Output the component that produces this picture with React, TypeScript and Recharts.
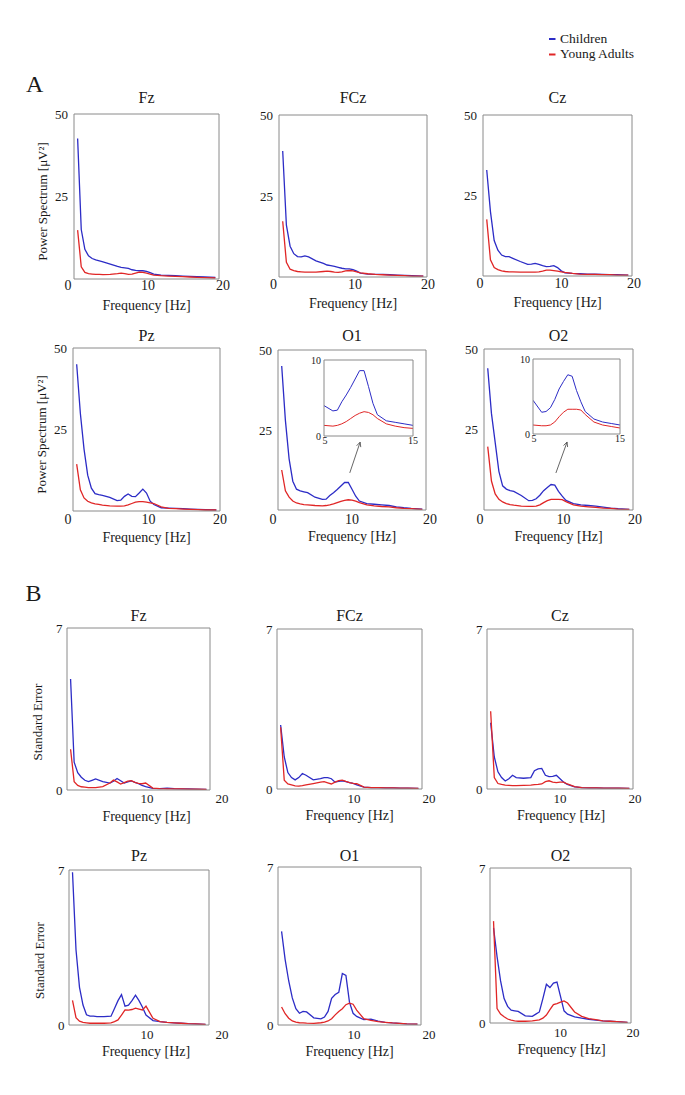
import React from 'react';
import { LineChart, Line, XAxis, YAxis, ReferenceLine } from 'recharts';

// ---------- data ----------
const FREQ = [0.5, 1, 1.5, 2, 2.5, 3, 3.5, 4, 5, 6, 6.5, 7, 7.5, 8, 8.5, 9, 9.5, 10, 10.5, 11, 12, 13, 14, 15, 16, 17, 18, 19.5];

// A: power spectrum [µV²]
const A_FZ_CHILD = [42.6, 15, 9, 7, 6.2, 5.8, 5.5, 5.2, 4.5, 3.8, 3.5, 3.4, 3.2, 2.8, 2.6, 2.5, 2.5, 2.3, 1.9, 1.5, 1.2, 1.1, 1.0, 0.9, 0.8, 0.7, 0.6, 0.5];
const A_FZ_ADULT = [14.8, 3.7, 2.0, 1.6, 1.5, 1.4, 1.4, 1.3, 1.4, 1.6, 1.8, 1.6, 1.4, 1.5, 1.8, 2.1, 2.0, 1.8, 1.5, 1.2, 1.0, 0.9, 0.8, 0.7, 0.6, 0.5, 0.4, 0.3];
const A_FCZ_CHILD = [38.9, 16, 9.5, 7.2, 6.3, 6.2, 6.5, 6.2, 5.0, 4.2, 3.7, 3.5, 3.3, 3.0, 2.7, 2.5, 2.5, 2.3, 1.8, 1.2, 0.9, 0.8, 0.8, 0.7, 0.6, 0.5, 0.4, 0.3];
const A_FCZ_ADULT = [17.2, 4.5, 2.4, 2.0, 1.7, 1.6, 1.5, 1.5, 1.5, 1.7, 1.8, 1.7, 1.5, 1.4, 1.6, 1.9, 2.0, 1.9, 1.6, 1.3, 1.0, 0.8, 0.7, 0.6, 0.5, 0.4, 0.3, 0.3];
const A_CZ_CHILD = [32.9, 20, 11, 8, 6.5, 6.0, 6.0, 5.5, 4.5, 3.6, 3.7, 3.9, 3.6, 3.2, 2.9, 3.0, 3.2, 2.6, 1.6, 1.0, 0.8, 0.7, 0.6, 0.6, 0.5, 0.4, 0.4, 0.3];
const A_CZ_ADULT = [17.6, 5, 2.6, 2.0, 1.6, 1.4, 1.3, 1.3, 1.2, 1.2, 1.2, 1.2, 1.3, 1.5, 1.8, 1.8, 1.7, 1.5, 1.3, 1.1, 0.8, 0.6, 0.5, 0.5, 0.4, 0.4, 0.3, 0.3];
const A_PZ_CHILD = [45, 30, 19, 11, 7, 5.3, 5.0, 4.8, 4.2, 3.2, 3.3, 4.5, 5.2, 4.5, 4.4, 5.5, 6.7, 5.5, 3.0, 2.0, 1.0, 0.9, 0.8, 0.7, 0.6, 0.5, 0.4, 0.3];
const A_PZ_ADULT = [14.4, 6.5, 4.0, 3.0, 2.5, 2.2, 2.0, 1.8, 1.6, 1.5, 1.5, 1.6, 1.9, 2.3, 2.7, 2.9, 2.9, 2.7, 2.5, 2.3, 1.3, 0.8, 0.7, 0.6, 0.5, 0.4, 0.3, 0.3];
const A_O1_CHILD = [45, 28, 16, 9, 6.5, 6.0, 5.7, 5.4, 4.0, 3.3, 3.4, 4.5, 5.4, 6.4, 7.5, 8.6, 8.6, 6.5, 4.3, 2.8, 2.0, 1.8, 1.6, 1.4, 1.0, 0.7, 0.5, 0.3];
const A_O1_ADULT = [12.5, 6, 4, 2.8, 2.2, 1.9, 1.7, 1.6, 1.4, 1.3, 1.4, 1.6, 1.9, 2.3, 2.7, 3.0, 3.2, 3.1, 2.8, 2.3, 1.6, 1.3, 1.1, 1.0, 0.7, 0.5, 0.4, 0.2];
const A_O2_CHILD = [44, 30, 21, 12, 7.5, 6.5, 6.0, 5.8, 4.5, 2.9, 3.0, 3.5, 4.6, 6.0, 7.0, 7.9, 7.7, 5.8, 4.3, 3.0, 2.0, 1.6, 1.4, 1.2, 0.9, 0.6, 0.4, 0.2];
const A_O2_ADULT = [19.7, 9, 5, 3.3, 2.5, 2.0, 1.7, 1.5, 1.2, 1.1, 1.1, 1.2, 1.6, 2.3, 2.9, 3.3, 3.3, 3.3, 3.2, 2.6, 1.6, 1.2, 1.0, 0.8, 0.6, 0.5, 0.3, 0.2];

// B: standard error
const B_FZ_CHILD = [4.8, 1.2, 0.75, 0.55, 0.42, 0.36, 0.42, 0.48, 0.36, 0.3, 0.38, 0.5, 0.4, 0.3, 0.35, 0.39, 0.33, 0.27, 0.2, 0.15, 0.07, 0.06, 0.08, 0.06, 0.05, 0.05, 0.04, 0.03];
const B_FZ_ADULT = [1.76, 0.36, 0.2, 0.14, 0.12, 0.1, 0.1, 0.1, 0.15, 0.3, 0.43, 0.35, 0.26, 0.32, 0.38, 0.4, 0.33, 0.29, 0.27, 0.3, 0.08, 0.06, 0.05, 0.05, 0.05, 0.04, 0.04, 0.03];
const B_FCZ_CHILD = [2.8, 1.4, 0.72, 0.5, 0.4, 0.5, 0.68, 0.6, 0.4, 0.45, 0.5, 0.5, 0.45, 0.3, 0.33, 0.36, 0.32, 0.28, 0.25, 0.18, 0.08, 0.06, 0.06, 0.05, 0.05, 0.04, 0.04, 0.03];
const B_FCZ_ADULT = [2.7, 0.38, 0.22, 0.18, 0.14, 0.13, 0.15, 0.18, 0.24, 0.3, 0.32, 0.27, 0.22, 0.3, 0.37, 0.39, 0.33, 0.28, 0.25, 0.23, 0.08, 0.06, 0.06, 0.05, 0.05, 0.04, 0.04, 0.03];
const B_CZ_CHILD = [2.9, 1.4, 0.75, 0.5, 0.35, 0.45, 0.6, 0.5, 0.47, 0.5, 0.8, 0.88, 0.9, 0.6, 0.54, 0.55, 0.6, 0.45, 0.3, 0.2, 0.09, 0.06, 0.05, 0.05, 0.04, 0.04, 0.04, 0.03];
const B_CZ_ADULT = [3.4, 0.5, 0.24, 0.2, 0.17, 0.16, 0.15, 0.15, 0.16, 0.17, 0.19, 0.2, 0.22, 0.32, 0.36, 0.3, 0.28, 0.3, 0.3, 0.22, 0.1, 0.06, 0.05, 0.05, 0.04, 0.04, 0.04, 0.03];
const B_PZ_CHILD = [6.9, 3.4, 1.7, 0.9, 0.46, 0.4, 0.4, 0.38, 0.38, 0.4, 0.75, 1.1, 1.37, 0.85, 0.9, 1.1, 1.35, 1.1, 0.8, 0.45, 0.2, 0.15, 0.12, 0.1, 0.08, 0.06, 0.05, 0.03];
const B_PZ_ADULT = [1.11, 0.33, 0.17, 0.12, 0.1, 0.08, 0.08, 0.08, 0.08, 0.1, 0.15, 0.23, 0.45, 0.68, 0.67, 0.7, 0.76, 0.72, 0.68, 0.85, 0.3, 0.15, 0.12, 0.1, 0.08, 0.06, 0.05, 0.03];
const B_O1_CHILD = [4.15, 2.9, 1.95, 1.2, 0.72, 0.52, 0.6, 0.58, 0.32, 0.27, 0.35, 0.6, 1.18, 1.35, 1.45, 2.28, 2.2, 1.0, 0.52, 0.38, 0.24, 0.26, 0.17, 0.12, 0.09, 0.07, 0.05, 0.04];
const B_O1_ADULT = [0.8, 0.5, 0.3, 0.18, 0.13, 0.1, 0.09, 0.08, 0.07, 0.1, 0.13, 0.18, 0.28, 0.45, 0.6, 0.72, 0.9, 0.97, 0.92, 0.66, 0.28, 0.2, 0.15, 0.12, 0.09, 0.07, 0.05, 0.04];
const B_O2_CHILD = [4.3, 3.0, 1.9, 1.1, 0.75, 0.58, 0.55, 0.52, 0.32, 0.3, 0.4, 0.5, 1.1, 1.75, 1.6, 1.8, 1.85, 1.2, 0.55, 0.4, 0.28, 0.22, 0.17, 0.13, 0.1, 0.08, 0.06, 0.03];
const B_O2_ADULT = [4.6, 0.65, 0.4, 0.28, 0.18, 0.13, 0.1, 0.08, 0.08, 0.1, 0.12, 0.14, 0.22, 0.36, 0.6, 0.83, 0.88, 0.94, 1.0, 0.9, 0.5, 0.3, 0.2, 0.15, 0.1, 0.08, 0.06, 0.03];

// ticks / labels
const A_X_TICKS = [0, 10, 20];
const B_X_TICKS = [10, 20];
const A_Y_TICKS = [25, 50];
const B_Y_TICKS = [0, 7];
const X_MINOR = [0, 2, 4, 6, 8, 10, 12, 14, 16, 18, 20];
const A_Y_MINOR = [0, 5, 10, 15, 20, 25, 30, 35, 40, 45, 50];
const B_Y_MINOR = [0, 1, 2, 3, 4, 5, 6, 7];
const INSET_X_TICKS = [5, 15];
const INSET_Y_TICKS = [0, 10];
const INSET_X_MINOR = [5, 7, 9, 11, 13, 15];
const INSET_Y_MINOR = [0, 2, 4, 6, 8, 10];
const O1_ARROW = [{ x: 9.7, y: 11.6 }, { x: 11.1, y: 21.2 }];
const O2_ARROW = [{ x: 9.65, y: 11.5 }, { x: 11.15, y: 21.1 }];
const LEGEND_LABELS = ['Children', 'Young Adults'];
const SECTION_LABELS = ['A', 'B'];
const X_TITLE = 'Frequency [Hz]';
const A_Y_TITLE = 'Power Spectrum [\u03bcV\u00b2]';
const B_Y_TITLE = 'Standard Error';

// ---------- style ----------
const BLUE = '#2c2cc6';
const RED = '#e02626';
const FRAME = '#8a8a8a';
const INK = '#1a1a1a';
const FONT = 'Liberation Serif, Times New Roman, serif';
const ML = 70, MR = 30, MT = 8, MB = 60;

type Box = [number, number, number, number];
type Spec = {
  title: string; kind: 'A' | 'B'; box: Box; titleBase: number;
  child: number[]; adult: number[]; tickGap: number;
  xTickDx: number[]; xTitleDx: number; yTitle?: string;
  inset?: { box: Box; arrow: { x: number; y: number }[] };
};

const SPECS: Spec[] = [
  { title: 'Fz', kind: 'A', box: [74, 114, 219, 279], titleBase: 103, child: A_FZ_CHILD, adult: A_FZ_ADULT, tickGap: 2, xTickDx: [-6, 1.5, 4], xTitleDx: 0, yTitle: A_Y_TITLE },
  { title: 'FCz', kind: 'A', box: [279, 115, 427, 277], titleBase: 103, child: A_FCZ_CHILD, adult: A_FCZ_ADULT, tickGap: 3, xTickDx: [-5.5, 2, 1], xTitleDx: 0 },
  { title: 'Cz', kind: 'A', box: [483, 115, 632, 276], titleBase: 103, child: A_CZ_CHILD, adult: A_CZ_ADULT, tickGap: 3, xTickDx: [-3, 4, 2], xTitleDx: 0 },
  { title: 'Pz', kind: 'A', box: [73, 348, 220, 511], titleBase: 340.5, child: A_PZ_CHILD, adult: A_PZ_ADULT, tickGap: 4, xTickDx: [-5, 2, 0], xTitleDx: 0, yTitle: A_Y_TITLE },
  { title: 'O1', kind: 'A', box: [278, 350, 426, 510], titleBase: 340.5, child: A_O1_CHILD, adult: A_O1_ADULT, tickGap: 4.5, xTickDx: [-5, 0, 4], xTitleDx: 0, inset: { box: [324, 360, 413, 436], arrow: O1_ARROW } },
  { title: 'O2', kind: 'A', box: [484, 349, 633, 510], titleBase: 340.5, child: A_O2_CHILD, adult: A_O2_ADULT, tickGap: 4.5, xTickDx: [-4, 5, 2], xTitleDx: 0, inset: { box: [533, 359, 620, 434], arrow: O2_ARROW } },
  { title: 'Fz', kind: 'B', box: [67, 628, 210, 790], titleBase: 621, child: B_FZ_CHILD, adult: B_FZ_ADULT, tickGap: 4.5, xTickDx: [8.5, 12], xTitleDx: 8, yTitle: B_Y_TITLE },
  { title: 'FCz', kind: 'B', box: [277, 629, 422, 789], titleBase: 621, child: B_FCZ_CHILD, adult: B_FCZ_ADULT, tickGap: 5, xTickDx: [4.5, 7], xTitleDx: 0 },
  { title: 'Cz', kind: 'B', box: [487, 629, 633, 789], titleBase: 621, child: B_CZ_CHILD, adult: B_CZ_ADULT, tickGap: 5, xTickDx: [0, 2], xTitleDx: 1 },
  { title: 'Pz', kind: 'B', box: [69, 870, 209, 1025], titleBase: 861, child: B_PZ_CHILD, adult: B_PZ_ADULT, tickGap: 5.5, xTickDx: [8, 13], xTitleDx: 7, yTitle: B_Y_TITLE },
  { title: 'O1', kind: 'B', box: [278, 867, 421, 1025], titleBase: 861, child: B_O1_CHILD, adult: B_O1_ADULT, tickGap: 5.5, xTickDx: [4.5, 8], xTitleDx: 0 },
  { title: 'O2', kind: 'B', box: [490, 868, 631, 1023], titleBase: 861, child: B_O2_CHILD, adult: B_O2_ADULT, tickGap: 5.5, xTickDx: [0, 2], xTitleDx: 1 },
];

const rowsOf = (child: number[], adult: number[]) => FREQ.map((f, i) => ({ f, c: child[i], a: adult[i] }));

const makeXTick = (ticks: number[], dx: number[], fs: number) => (props: any) => {
  const { x, y, payload } = props;
  const i = ticks.indexOf(payload.value);
  return (
    <text x={x + (dx[i] ?? 0)} y={y} dy="0.71em" textAnchor="middle" fontSize={fs} fill={INK} style={{ fontFamily: FONT }}>
      {payload.value}
    </text>
  );
};

const Arrow = (props: any) => {
  const { x1, y1, x2, y2 } = props;
  const ang = Math.atan2(y2 - y1, x2 - x1);
  const L = 5, a = 0.45;
  const p1 = `${x2 - L * Math.cos(ang - a)},${y2 - L * Math.sin(ang - a)}`;
  const p2 = `${x2 - L * Math.cos(ang + a)},${y2 - L * Math.sin(ang + a)}`;
  return (
    <g stroke="#555" strokeWidth={0.9} fill="none">
      <line x1={x1} y1={y1} x2={x2} y2={y2} />
      <polyline points={`${p1} ${x2},${y2} ${p2}`} />
    </g>
  );
};

function Inset({ box, child, adult }: { box: Box; child: number[]; adult: number[] }) {
  const [l, t, r, b] = box;
  const w = r - l, h = b - t;
  const IML = 26, IMR = 12, IMT = 6, IMB = 16;
  const W = IML + w + IMR, H = IMT + h + IMB;
  const data = rowsOf(child, adult).filter((d) => d.f >= 5 && d.f <= 15);
  return (
    <div style={{ position: 'absolute', left: l - IML, top: t - IMT, width: W, height: H }}>
      <LineChart width={W} height={H} data={data} margin={{ top: IMT, right: IMR, left: 0, bottom: 0 }}>
        <XAxis xAxisId="x" dataKey="f" type="number" domain={[5, 15]} ticks={INSET_X_TICKS} interval={0} height={IMB}
          axisLine={false} tickLine={false} tickSize={0.5} tickMargin={0} tick={makeXTick(INSET_X_TICKS, [1, 0], 10)} allowDataOverflow />
        <XAxis xAxisId="xb" dataKey="f" type="number" domain={[5, 15]} ticks={INSET_X_MINOR} interval={0} mirror tick={false} tickSize={2} stroke={FRAME} allowDataOverflow />
        <XAxis xAxisId="xt" dataKey="f" orientation="top" type="number" domain={[5, 15]} ticks={INSET_X_MINOR} interval={0} mirror tick={false} tickSize={2} stroke={FRAME} allowDataOverflow />
        <YAxis yAxisId="y" type="number" domain={[0, 10]} ticks={INSET_Y_TICKS} interval={0} width={IML} axisLine={false} tickLine={false}
          tickSize={3} tickMargin={0} tick={{ fontSize: 10, fill: INK, style: { fontFamily: FONT } }} allowDataOverflow />
        <YAxis yAxisId="yl" type="number" domain={[0, 10]} ticks={INSET_Y_MINOR} interval={0} mirror tick={false} tickSize={2} stroke={FRAME} />
        <YAxis yAxisId="yr" orientation="right" type="number" domain={[0, 10]} ticks={INSET_Y_MINOR} interval={0} mirror tick={false} tickSize={2} stroke={FRAME} />
        <Line xAxisId="x" yAxisId="y" dataKey="c" stroke={BLUE} strokeWidth={1} dot={false} activeDot={false} isAnimationActive={false} />
        <Line xAxisId="x" yAxisId="y" dataKey="a" stroke={RED} strokeWidth={1} dot={false} activeDot={false} isAnimationActive={false} />
      </LineChart>
    </div>
  );
}

function Panel({ spec }: { spec: Spec }) {
  const { box, child, adult, kind, xTickDx, xTitleDx, yTitle, tickGap, inset } = spec;
  const [l, t, r, b] = box;
  const w = r - l, h = b - t;
  const isA = kind === 'A';
  const yMax = isA ? 50 : 7;
  const xTicks = isA ? A_X_TICKS : B_X_TICKS;
  const yTicks = isA ? A_Y_TICKS : B_Y_TICKS;
  const yMinor = isA ? A_Y_MINOR : B_Y_MINOR;
  const data = rowsOf(child, adult);
  const W = ML + w + MR, H = MT + h + MB;
  const tickFs = isA ? 14 : 13;
  const yOff = isA ? 27.5 : 25;
  const yDy = isA ? 5 : 13;
  return (
    <>
      <div style={{ position: 'absolute', left: l - ML, top: t - MT, width: W, height: H }}>
        <LineChart width={W} height={H} data={data} margin={{ top: MT, right: MR, left: 0, bottom: 0 }}>
          <XAxis xAxisId="x" dataKey="f" type="number" domain={[0, 20]} ticks={xTicks} interval={0} height={MB}
            axisLine={false} tickLine={false} tickSize={Math.max(tickGap - 0.5, 0)} tickMargin={0}
            tick={makeXTick(xTicks, xTickDx, tickFs)}
            label={{
              value: X_TITLE,
              content: () => (
                <text x={ML + w / 2 + xTitleDx} y={MT + h + 31} textAnchor="middle" fontSize={14} fill={INK} style={{ fontFamily: FONT }}>
                  {X_TITLE}
                </text>
              ),
            }} />
          <XAxis xAxisId="xb" dataKey="f" type="number" domain={[0, 20]} ticks={X_MINOR} interval={0} mirror tick={false} tickSize={3} stroke={FRAME} allowDataOverflow />
          <XAxis xAxisId="xt" dataKey="f" orientation="top" type="number" domain={[0, 20]} ticks={X_MINOR} interval={0} mirror tick={false} tickSize={3} stroke={FRAME} allowDataOverflow />
          <YAxis yAxisId="y" type="number" domain={[0, yMax]} ticks={yTicks} interval={0} width={ML} axisLine={false} tickLine={false}
            tickSize={isA ? 6 : 4.5} tickMargin={0} tick={{ fontSize: 13, fill: INK, style: { fontFamily: FONT } }}
            label={yTitle ? {
              value: yTitle,
              content: () => (
                <text transform={`translate(${ML - yOff},${MT + h / 2 + yDy}) rotate(-90)`} textAnchor="middle" fontSize={13} fill={INK} style={{ fontFamily: FONT }}>
                  {yTitle}
                </text>
              ),
            } : undefined} />
          <YAxis yAxisId="yl" type="number" domain={[0, yMax]} ticks={yMinor} interval={0} mirror tick={false} tickSize={3} stroke={FRAME} />
          <YAxis yAxisId="yr" orientation="right" type="number" domain={[0, yMax]} ticks={yMinor} interval={0} mirror tick={false} tickSize={3} stroke={FRAME} />
          <Line xAxisId="x" yAxisId="y" dataKey="c" stroke={BLUE} strokeWidth={1.3} dot={false} activeDot={false} isAnimationActive={false} />
          <Line xAxisId="x" yAxisId="y" dataKey="a" stroke={RED} strokeWidth={1.3} dot={false} activeDot={false} isAnimationActive={false} />
          {inset ? <ReferenceLine xAxisId="x" yAxisId="y" segment={inset.arrow} shape={Arrow} ifOverflow="visible" /> : null}
        </LineChart>
      </div>
      {inset ? <Inset box={inset.box} child={child} adult={adult} /> : null}
    </>
  );
}

export default function App() {
  const txt = { fill: INK, style: { fontFamily: FONT } };
  return (
    <div style={{ position: 'absolute', left: 0, top: 0, width: 685, height: 1095, background: '#fff', overflow: 'hidden', fontFamily: FONT }}>
      <svg width={685} height={1095} style={{ position: 'absolute', left: 0, top: 0 }}>
        <line x1={549} x2={555.5} y1={39} y2={39} stroke={BLUE} strokeWidth={2} />
        <text x={560} y={42.5} fontSize={13.5} {...txt}>{LEGEND_LABELS[0]}</text>
        <line x1={549} x2={555.5} y1={54.5} y2={54.5} stroke={RED} strokeWidth={2} />
        <text x={560} y={58.2} fontSize={13.5} {...txt}>{LEGEND_LABELS[1]}</text>
        <text x={26} y={92} fontSize={24} {...txt}>{SECTION_LABELS[0]}</text>
        <text x={25.5} y={601} fontSize={24} {...txt}>{SECTION_LABELS[1]}</text>
        {SPECS.map((s, i) => (
          <text key={i} x={(s.box[0] + s.box[2]) / 2} y={s.titleBase} textAnchor="middle" fontSize={16} {...txt}>
            {s.title}
          </text>
        ))}
      </svg>
      {SPECS.map((s, i) => (
        <Panel key={i} spec={s} />
      ))}
    </div>
  );
}
